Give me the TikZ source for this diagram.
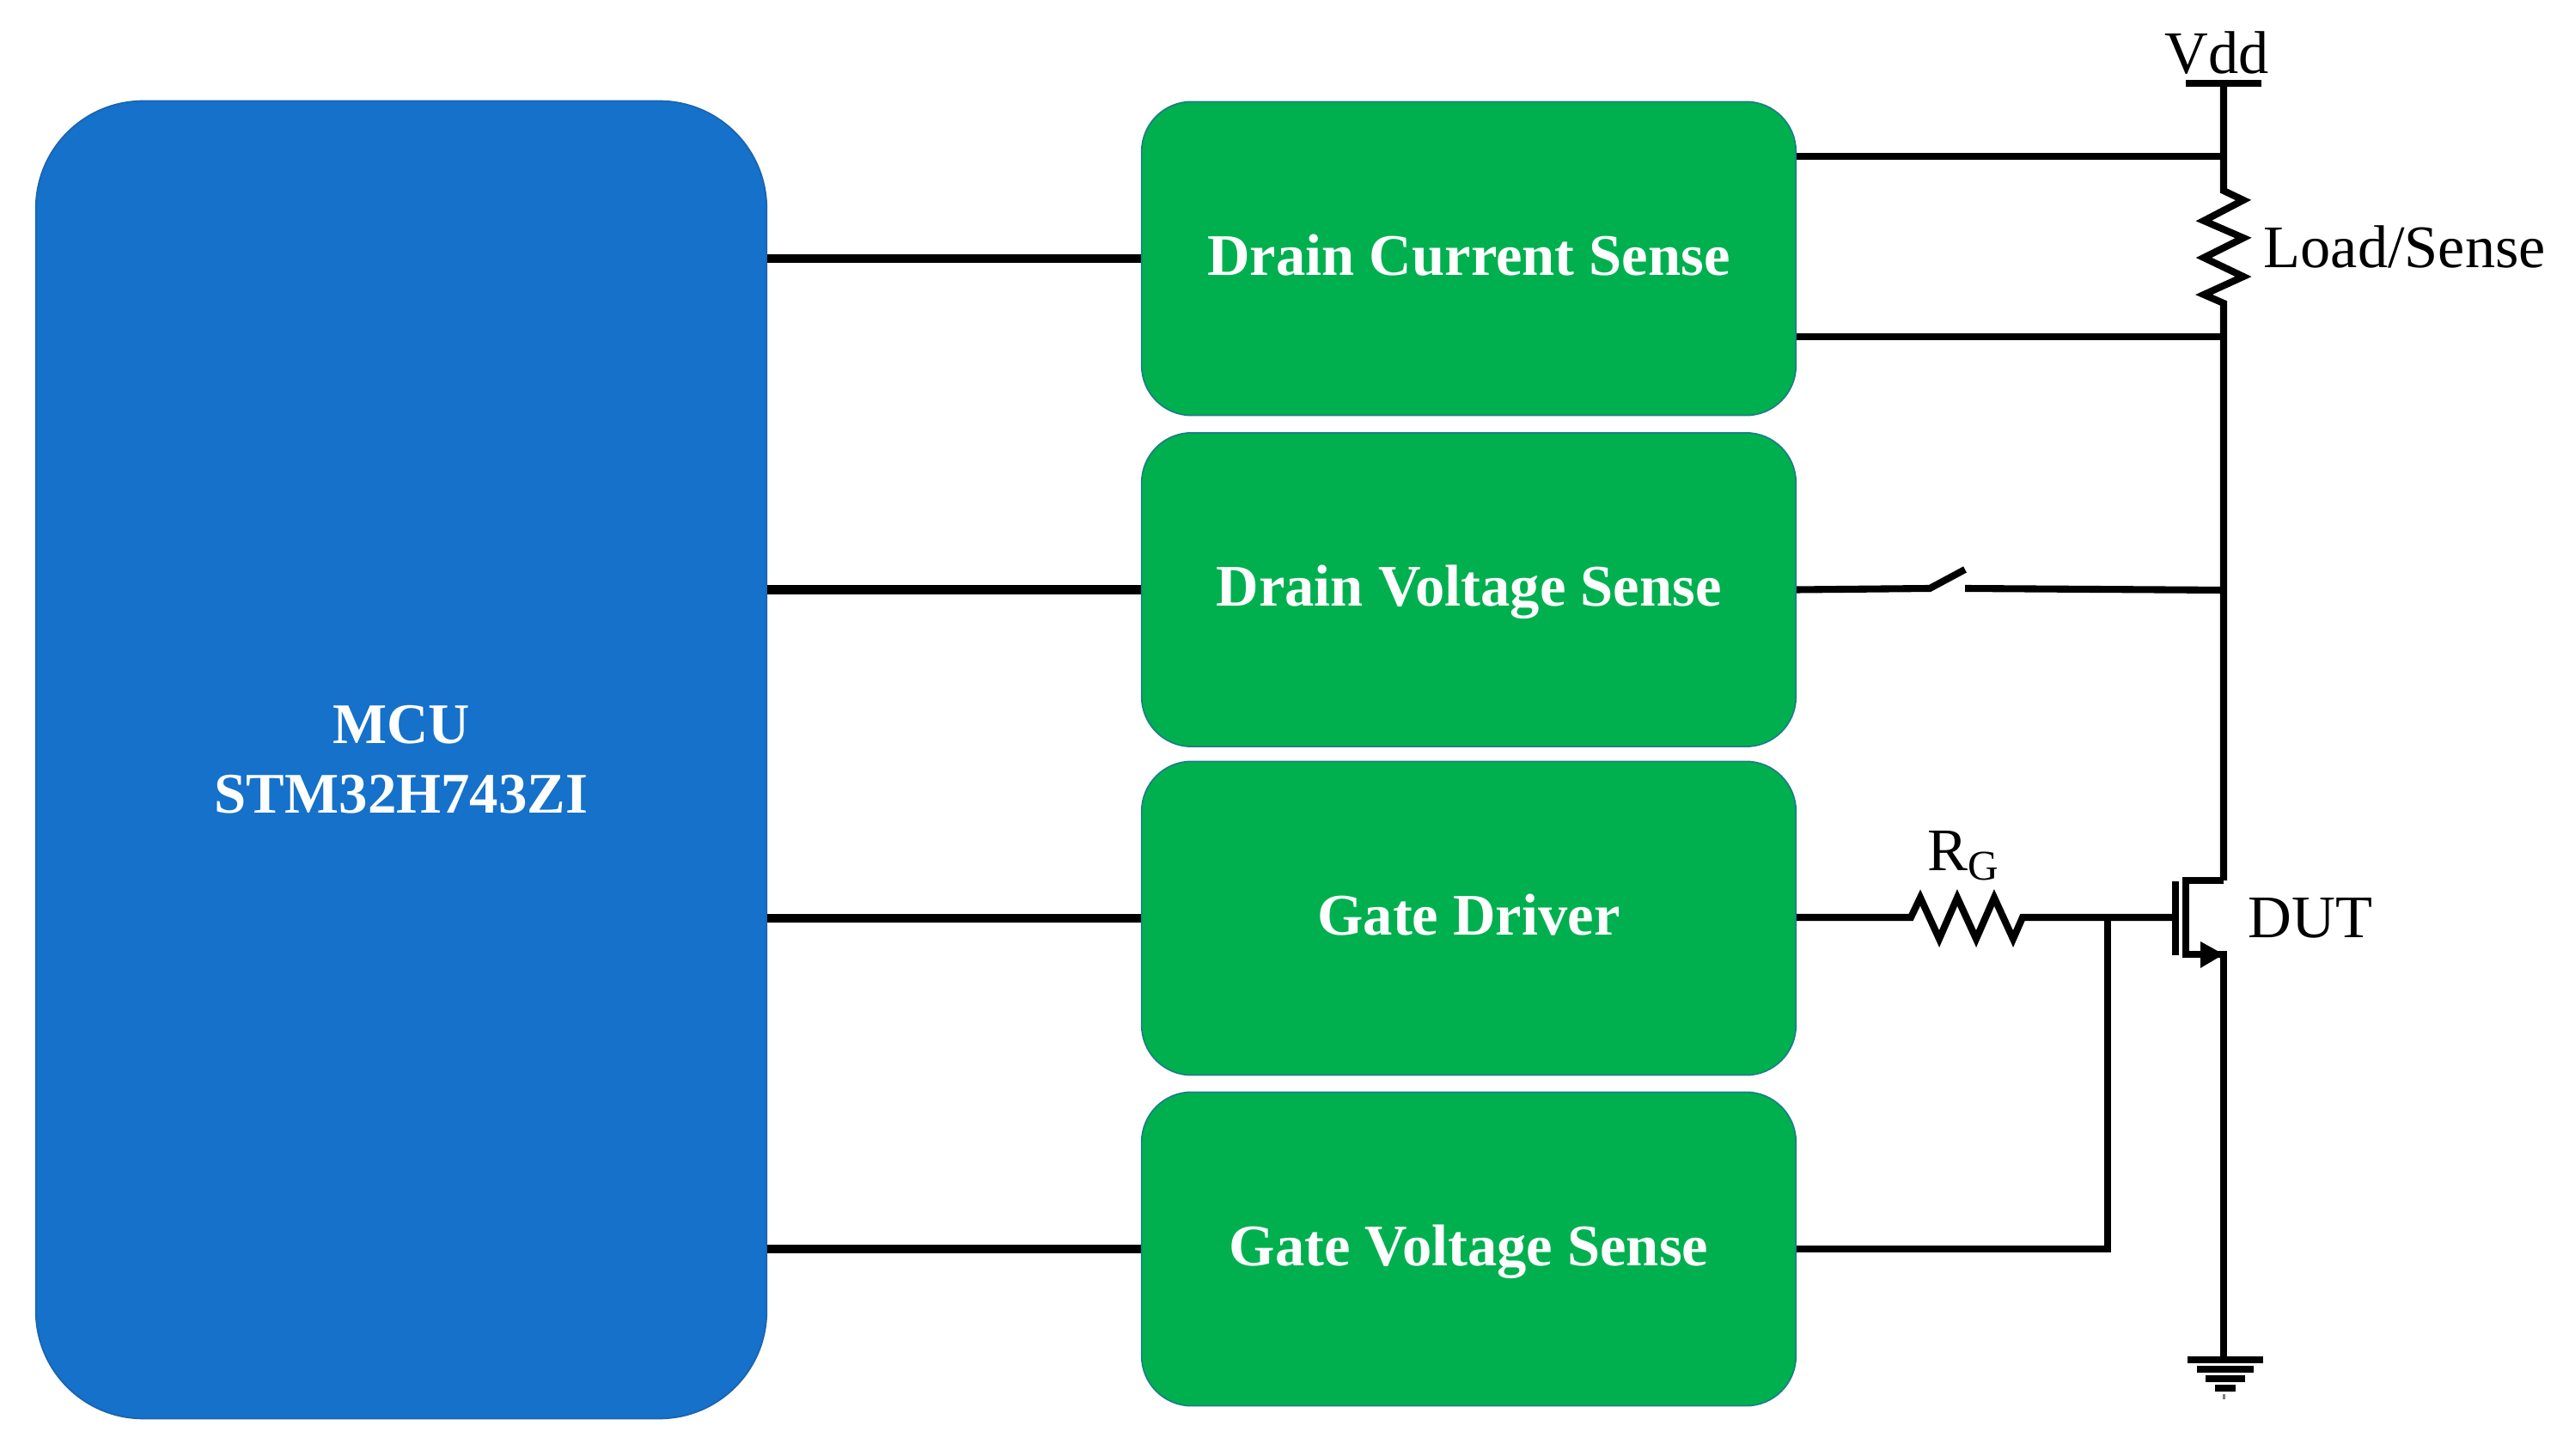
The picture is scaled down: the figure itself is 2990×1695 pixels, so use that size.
\documentclass[tikz,border=0pt]{standalone}
\usepackage{fontspec}
\setmainfont{Liberation Serif}
\definecolor{mcublue}{HTML}{1571C9}
\definecolor{mcuedge}{HTML}{1B64B0}
\definecolor{boxgreen}{HTML}{00B04F}
\definecolor{boxedge}{HTML}{1A7F86}
\tikzset{
  mcubox/.style={draw=mcuedge, fill=mcublue, line width=0.5pt, rounded corners=1.25cm,
    minimum width=8.5cm, minimum height=15.33cm, align=center, text=white,
    font=\bfseries\fontsize{19}{23}\selectfont},
  sensebox/.style={draw=boxedge, fill=boxgreen, line width=0.5pt, rounded corners=0.58cm,
    minimum width=7.61cm, minimum height=3.65cm, text=white, text height=14pt, text depth=3pt,
    font=\bfseries\fontsize{19.5}{23}\selectfont},
  bus/.style={line width=3.1pt},
  wire/.style={line width=2.3pt, line join=miter},
  lbl/.style={inner sep=0pt, font=\fontsize{20}{24}\selectfont}
}
\begin{document}
\begin{tikzpicture}[x=0.01cm,y=-0.01cm]
    \useasboundingbox (0,0) rectangle (2990,1695);

    % MCU and the four blocks
    \node [mcubox] (mcu) at (467,884.5) {MCU\\STM32H743ZI};
    \node [sensebox] (dcs) at (1709.5,301) {Drain Current Sense};
    \node [sensebox] (dvs) at (1709.5,686.5) {Drain Voltage Sense};
    \node [sensebox] (gdr) at (1709.5,1069) {Gate Driver};
    \node [sensebox] (gvs) at (1709.5,1454) {Gate Voltage Sense};

    % Links from the MCU
    \foreach \b in {dcs,dvs,gdr,gvs} {
      \draw [bus] (mcu.east |- \b.west) -- (\b.west);
    }

    % Points on the drain rail
    \coordinate (vdd)     at (2588,97);
    \coordinate (senseA)  at (2588,182);
    \coordinate (loadA)   at (2588,222);
    \coordinate (loadB)   at (2588,353);
    \coordinate (senseB)  at (2588,392);
    \coordinate (swnode)  at (2588,687);
    \coordinate (drain)   at (2588,1025);
    \coordinate (source)  at (2588,1111);
    \coordinate (gnd)     at (2588,1583);

    % Supply and load
    \draw [wire] (2544,97) -- (2632,97);
    \node [lbl, anchor=base] (vddlbl) at (2580,86) {Vdd};
    \draw [wire] (vdd) -- (loadA) -- ++(23,11) -- ++(-46,24) -- ++(46,20)
      -- ++(-46,23) -- ++(46,22) -- ++(-46,21) -- (loadB) -- (drain);
    \node [lbl, anchor=base west] (loadlbl) at (2634,312) {Load/Sense};
    \draw [wire] (dcs.east |- senseA) -- (senseA);
    \draw [wire] (dcs.east |- senseB) -- (senseB);

    % Switch
    \coordinate (swA) at (2246,685);
    \coordinate (swB) at (2287,685);
    \draw [wire] (dvs.east) -- (swA) -- (2287,663);
    \draw [wire] (swB) -- (swnode);

    % Gate path
    \coordinate (rgA) at (2224,1068);
    \coordinate (rgB) at (2354,1068);
    \coordinate (tee) at (2453,1068);
    \coordinate (gate) at (2532,1068);
    \draw [wire] (gdr.east |- rgA) -- (rgA) -- ++(11,-23) -- ++(22,48) -- ++(21,-48)
      -- ++(22,48) -- ++(21,-48) -- ++(22,48) -- (rgB) -- (tee) -- (gate);
    \node [lbl, anchor=base west] (rglbl) at (2243,1014) {R\textsubscript{G}};
    \draw [wire] (gvs.east) -- (tee |- gvs.east) -- (tee);

    % Transistor
    \draw [wire] (2532,1026) -- (2532,1112);
    \draw [wire] (drain) -- (2544,1025) -- (2544,1111) -- (source) -- (gnd);
    \fill (2561,1096) -- (source) -- (2561,1127) -- cycle;
    \node [lbl, anchor=base west] (dutlbl) at (2616,1092) {DUT};

    % Ground bars
    \foreach \y/\w in {1583/44,1594/33,1605/23,1616/12} {
      \draw [wire] (2590-\w,\y) -- (2590+\w,\y);
    }
    \draw [line width=0.9pt, gray] (2588.5,1623) -- (2588.5,1629);

  \end{tikzpicture}
\end{document}
